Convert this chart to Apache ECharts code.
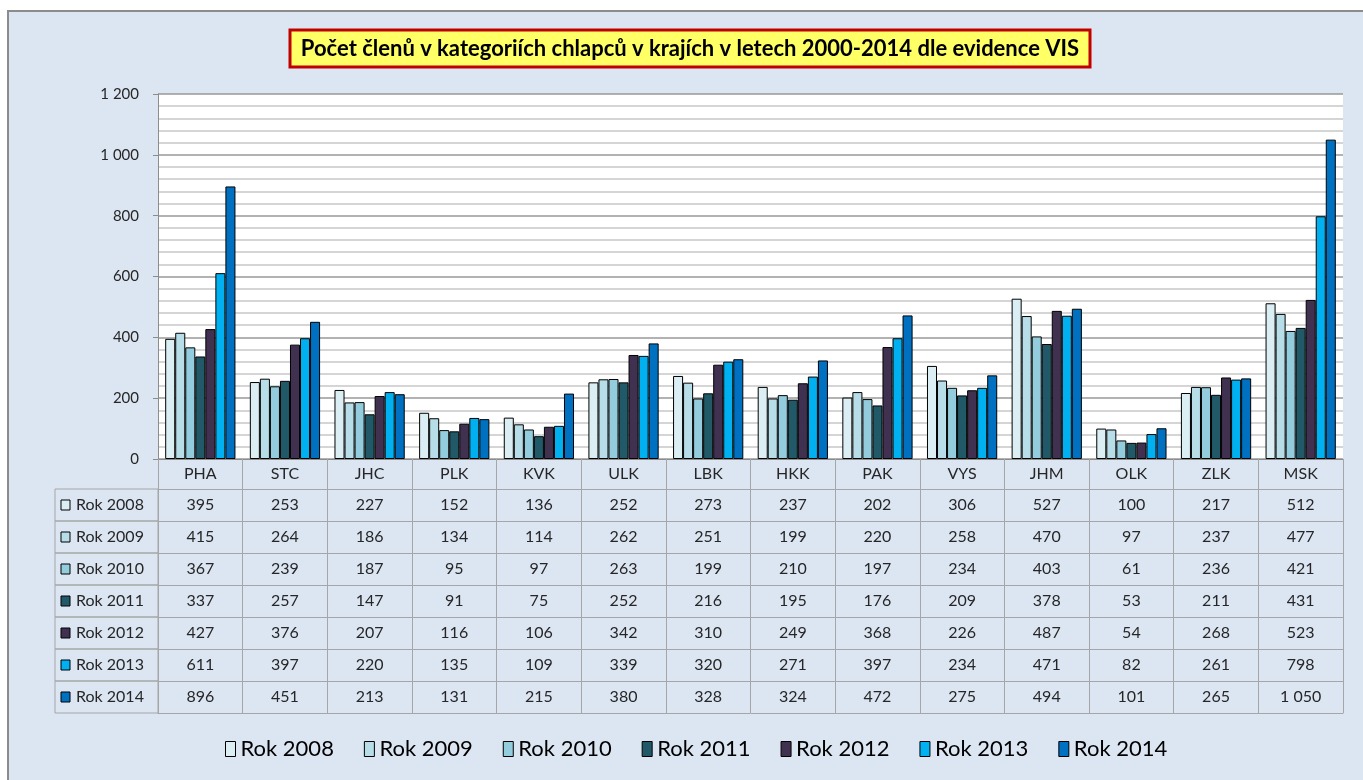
<!DOCTYPE html>
<html><head><meta charset="utf-8">
<script src="https://cdn.jsdelivr.net/npm/echarts@6/dist/echarts.min.js"></script>
<style>html,body{margin:0;padding:0;background:#fff}#c{width:1363px;height:780px}</style>
</head><body><div id="c"></div>
<script>
const categories = ['PHA','STC','JHC','PLK','KVK','ULK','LBK','HKK','PAK','VYS','JHM','OLK','ZLK','MSK'];
const seriesNames = ['Rok 2008','Rok 2009','Rok 2010','Rok 2011','Rok 2012','Rok 2013','Rok 2014'];
const rok2008 = [395,253,227,152,136,252,273,237,202,306,527,100,217,512];
const rok2009 = [415,264,186,134,114,262,251,199,220,258,470,97,237,477];
const rok2010 = [367,239,187,95,97,263,199,210,197,234,403,61,236,421];
const rok2011 = [337,257,147,91,75,252,216,195,176,209,378,53,211,431];
const rok2012 = [427,376,207,116,106,342,310,249,368,226,487,54,268,523];
const rok2013 = [611,397,220,135,109,339,320,271,397,234,471,82,261,798];
const rok2014 = [896,451,213,131,215,380,328,324,472,275,494,101,265,1050];
const yTicks = [0,200,400,600,800,1000,1200];
const titleText = 'Počet členů v kategoriích chlapců v krajích v letech 2000-2014 dle evidence VIS';

const allSeries = [rok2008,rok2009,rok2010,rok2011,rok2012,rok2013,rok2014];
const colors = ['#dbeef4','#b7dde8','#93cddd','#215968','#403151','#00b0f0','#0070c0'];
const FONT = 'Lato, "Noto Sans", sans-serif';
const TXT = '#262626';
const fmt = v => String(v).replace(/\B(?=(\d{3})+(?!\d))/g, ' ');

const G_LEFT = 158, G_RIGHT = 20, G_TOP = 94, G_BOTTOM_Y = 459;
const HEADER_H = 30, ROW_H = 32;
const lineCol = '#a6a6a6';

const xAxes = [{
  type:'category', data:categories, gridIndex:0, position:'bottom',
  axisLine:{show:true, lineStyle:{color:'#8c8c8c', width:1}},
  axisTick:{show:true, interval:0, length: HEADER_H + ROW_H*7, lineStyle:{color:lineCol}},
  axisLabel:{margin:7, fontSize:16, color:TXT, fontFamily:FONT, interval:0}
}];
allSeries.forEach((s,i)=>{
  xAxes.push({
    type:'category', data:s.map(fmt), gridIndex:0, position:'bottom',
    offset: HEADER_H + ROW_H*i,
    axisLine:{show:true, lineStyle:{color:lineCol}},
    axisTick:{show:false},
    axisLabel:{margin:8, fontSize:16, color:TXT, fontFamily:FONT, interval:0}
  });
});
xAxes.push({
  type:'category', data:categories, gridIndex:0, position:'bottom',
  offset: HEADER_H + ROW_H*7,
  axisLine:{show:true, lineStyle:{color:lineCol}},
  axisTick:{show:false}, axisLabel:{show:false}
});

const graphics = [
  {type:'rect', shape:{x:8,y:11,width:1400,height:820}, style:{fill:'#dce6f2', stroke:'#8c8c8c', lineWidth:2}, z:-10},
  {type:'rect', shape:{x:290,y:30,width:800,height:37}, style:{fill:'#ffff66', stroke:'#c00000', lineWidth:3}, z:5},
  {type:'text', x:690, y:48.5, style:{text:titleText, fill:'#000', font:'bold 22px ' + FONT, align:'center', verticalAlign:'middle'}, z:6}
];
seriesNames.forEach((n,i)=>{
  const y = G_BOTTOM_Y + HEADER_H + ROW_H*i;
  graphics.push({type:'rect', shape:{x:55,y:y,width:G_LEFT-55,height:ROW_H}, style:{fill:'transparent', stroke:lineCol, lineWidth:1}, z:1});
  graphics.push({type:'rect', shape:{x:61,y:y+11,width:9,height:10}, style:{fill:colors[i], stroke:'#000', lineWidth:1}, z:2});
  graphics.push({type:'text', x:76, y:y+ROW_H/2, style:{text:n, fill:TXT, font:'16px ' + FONT, verticalAlign:'middle'}, z:2});
});

const chart = echarts.init(document.getElementById('c'));
chart.setOption({
  backgroundColor:'#fff',
  animation:false,
  graphic: graphics,
  grid:{left:G_LEFT, right:G_RIGHT, top:G_TOP, bottom:780-G_BOTTOM_Y, show:true, backgroundColor:'#fff', borderWidth:0},
  legend:{
    data:seriesNames, top:733, left:220, icon:'rect', itemWidth:10, itemHeight:15, itemGap:30,
    textStyle:{fontSize:22, color:'#000', fontFamily:FONT},
    itemStyle:{borderColor:'#000', borderWidth:1}
  },
  xAxis: xAxes,
  yAxis:{
    type:'value', min:0, max:1200, interval:200,
    axisLine:{show:true, lineStyle:{color:'#8c8c8c'}},
    axisTick:{show:true, length:5, lineStyle:{color:'#8c8c8c'}},
    axisLabel:{margin:19, fontSize:15, color:TXT, fontFamily:FONT, formatter:v=>yTicks.includes(v)?fmt(v):''},
    splitLine:{show:true, lineStyle:{color:'#999', width:1.5}},
    minorTick:{show:false, splitNumber:5},
    minorSplitLine:{show:true, lineStyle:{color:'#c8c8c8', width:1.5}}
  },
  series: allSeries.map((s,i)=>({
    name:seriesNames[i], type:'bar', data:s, xAxisIndex:0,
    barGap:'0%', barCategoryGap:'17%',
    itemStyle:{color:colors[i], borderColor:'#000', borderWidth:1}
  }))
});
</script></body></html>
